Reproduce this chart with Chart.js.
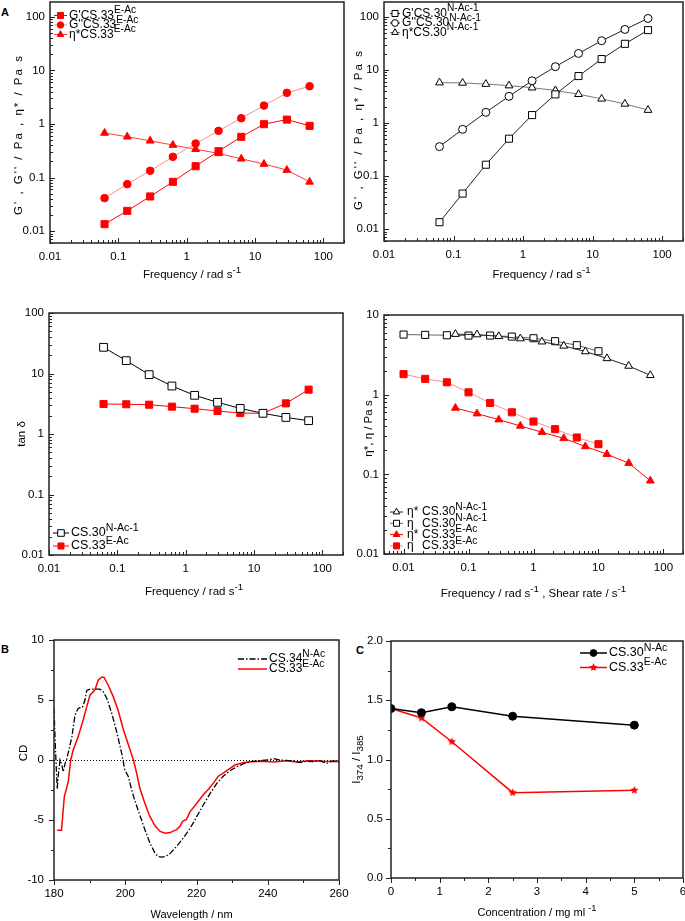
<!DOCTYPE html>
<html>
<head>
<meta charset="utf-8">
<script src="https://cdn.jsdelivr.net/npm/chart.js@4.4.1/dist/chart.umd.min.js"></script>
<style>
  html, body { margin: 0; padding: 0; background: #fff; }
  body { width: 685px; height: 921px; position: relative; overflow: hidden; }
  canvas { position: absolute; }
  .tag { position: absolute; font: bold 11px 'Liberation Sans', Arial, sans-serif; }
</style>
</head>
<body>
<div class="tag" style="left:1px;top:6px">A</div>
<div class="tag" style="left:1px;top:643px">B</div>
<div class="tag" style="left:356px;top:644px">C</div>
<canvas id="p1"></canvas>
<canvas id="p2"></canvas>
<canvas id="p3"></canvas>
<canvas id="p4"></canvas>
<canvas id="pB"></canvas>
<canvas id="pC"></canvas>
<script>
// ---------- data ----------
const freq = [0.0628, 0.135, 0.292, 0.628, 1.35, 2.92, 6.28, 13.5, 29.2, 62.8];
const shearRate = [0.01, 0.0215, 0.0464, 0.1, 0.215, 0.464, 1, 2.15, 4.64, 10];

// CS.33 E-Ac oscillatory
const gStorage33 = [0.0135, 0.0239, 0.0444, 0.0833, 0.163, 0.311, 0.576, 0.993, 1.21, 0.924];
const gLoss33 = [0.0413, 0.0753, 0.134, 0.244, 0.433, 0.745, 1.285, 2.21, 3.82, 5.08];
const etaStar33 = [0.68, 0.578, 0.486, 0.405, 0.338, 0.283, 0.224, 0.179, 0.138, 0.083];

// CS.30 N-Ac-1 oscillatory
const gStorage30 = [0.01355, 0.0469, 0.164, 0.507, 1.41, 3.46, 7.66, 16.0, 31.0, 56.1];
const gLoss30 = [0.359, 0.76, 1.59, 3.18, 6.25, 11.5, 20.4, 35.4, 57.8, 93.0];
const etaStar30 = [5.75, 5.68, 5.4, 5.06, 4.62, 4.1, 3.48, 2.85, 2.29, 1.75];

// tan delta
const tanDelta30 = [27.1, 16.3, 9.57, 6.21, 4.36, 3.34, 2.65, 2.2, 1.88, 1.66];
const tanDelta33 = [3.13, 3.1, 3.05, 2.83, 2.62, 2.4, 2.22, 2.2, 3.21, 5.41];

// steady shear viscosity
const etaSteady30 = [5.68, 5.63, 5.57, 5.52, 5.52, 5.36, 5.11, 4.69, 4.18, 3.51];
const etaSteady33 = [1.81, 1.58, 1.43, 1.07, 0.787, 0.601, 0.46, 0.369, 0.29, 0.239];

// CD spectra
const cd34Nm = [180.0, 180.4, 180.9, 181.3, 181.7, 182.2, 182.6, 183.1, 183.6, 184.3, 185.0, 185.9,
  186.8, 187.5, 188.0, 188.7, 189.2, 190.1, 191.5, 192.9, 193.8, 194.8, 196.2, 197.6, 199.0, 199.9,
  200.9, 201.8, 202.6, 203.4, 204.1, 205.5, 206.9, 208.4, 209.3, 210.2, 211.2, 212.6, 214.4, 216.3,
  218.2, 220.1, 221.9, 223.8, 225.7, 227.5, 229.4, 231.3, 233.1, 235.0, 237.8, 239.7, 242.0, 243.5,
  246.2, 249.1, 251.0, 252.8, 254.5, 256.5, 258.0, 260.0];
const cd34Val = [4.3, 1.0, -2.4, -1.0, 0.0, -0.4, -1.0, -0.3, 0.1, 1.0, 1.9, 3.75,
  4.3, 4.4, 4.4, 5.0, 5.8, 5.9, 5.9, 5.9, 5.7, 5.15, 3.9, 2.35, 0.55, -0.85,
  -1.4, -2.5, -3.3, -4.0, -4.6, -5.8, -6.9, -7.8, -8.05, -8.1, -8.05, -7.8, -7.2, -6.5,
  -5.7, -4.7, -3.75, -2.8, -1.95, -1.35, -0.9, -0.55, -0.33, -0.15, -0.06, 0.0, 0.1, 0.0,
  -0.06, -0.2, -0.1, -0.14, -0.05, -0.28, -0.1, -0.06];
const cd33Nm = [180.9, 182.1, 182.9, 184.0, 184.7, 185.4, 186.8, 188.2, 189.2, 190.1, 191.5, 192.4,
  193.4, 194.0, 195.2, 196.6, 198.0, 199.5, 200.9, 202.3, 203.2, 204.1, 205.5, 206.9, 208.4, 209.8,
  211.2, 212.6, 214.4, 215.4, 216.1, 217.2, 218.2, 220.1, 221.9, 223.3, 224.7, 226.1, 227.5, 228.9,
  230.8, 233.1, 235.0, 237.8, 241.6, 245.3, 248.1, 251.9, 255.6, 260.0];
const cd33Val = [-5.85, -5.85, -3.05, -1.8, 0.0, 0.85, 1.95, 3.35, 4.45, 5.4, 5.85, 6.65,
  6.9, 6.9, 6.25, 5.3, 4.15, 2.5, 1.25, 0.0, -1.1, -2.35, -3.6, -4.7, -5.5, -5.95,
  -6.1, -6.05, -5.8, -5.5, -5.1, -4.95, -4.3, -3.6, -2.9, -2.45, -1.95, -1.35, -1.1, -0.8,
  -0.42, -0.22, -0.14, -0.11, -0.17, -0.06, -0.17, -0.06, -0.11, -0.14];

// pyrene ratio vs concentration
const conc = [0, 0.625, 1.25, 2.5, 5];
const ratio30 = [1.43, 1.395, 1.445, 1.365, 1.29];
const ratio33 = [1.43, 1.35, 1.15, 0.72, 0.74];

// tick labels
const decadeTicks4 = [0.01, 0.1, 1, 10, 100];
const decadeTicksY3 = [0.01, 0.1, 1, 10];
const cdWaveTicks = [180, 200, 220, 240, 260];
const cdTicks = [-10, -5, 0, 5, 10];
const concTicks = [0, 1, 2, 3, 4, 5, 6];
const ratioTicks = [0, 0.5, 1, 1.5, 2];

// ---------- helpers ----------
const FONT = "'Liberation Sans', Arial, sans-serif";
Chart.defaults.font.family = FONT;
Chart.defaults.font.size = 11.5;
Chart.defaults.color = '#000';
Chart.defaults.animation = false;

const RED = '#ff0000';
const PINK = '#ff8a8a';

function pairs(xs, ys) {
  return xs.map((x, i) => ({ x: x, y: ys[i] }));
}

function parseRich(str) {
  const parts = [];
  const re = /([\^_])\{([^}]*)\}/g;
  let last = 0, m;
  while ((m = re.exec(str))) {
    if (m.index > last) parts.push({ t: str.slice(last, m.index), mode: '' });
    parts.push({ t: m[2], mode: m[1] === '^' ? 'sup' : 'sub' });
    last = re.lastIndex;
  }
  if (last < str.length) parts.push({ t: str.slice(last), mode: '' });
  return parts;
}

function drawRich(ctx, str, x, y, opt) {
  const size = opt.size || 12;
  const parts = parseRich(str);
  ctx.save();
  ctx.textBaseline = 'middle';
  ctx.textAlign = 'left';
  ctx.fillStyle = '#000';
  if ('letterSpacing' in ctx) ctx.letterSpacing = (opt.spacing || 0) + 'px';
  const fonts = parts.map(p => (opt.weight ? opt.weight + ' ' : '') + (p.mode ? size * 0.85 : size) + 'px ' + FONT);
  const widths = parts.map((p, i) => { ctx.font = fonts[i]; return ctx.measureText(p.t).width; });
  const total = widths.reduce((a, b) => a + b, 0);
  let cx = opt.align === 'center' ? x - total / 2 : x;
  parts.forEach((p, i) => {
    ctx.font = fonts[i];
    const dy = p.mode === 'sup' ? -size * 0.42 : (p.mode === 'sub' ? size * 0.32 : 0);
    ctx.fillText(p.t, cx, y + dy);
    cx += widths[i];
  });
  ctx.restore();
}

function tickMarks(scale, minorStep) {
  const out = [];
  const majors = scale.ticks.map(t => t.value);
  const isMajor = v => majors.some(m => Math.abs(m - v) < 1e-6 * Math.max(1, Math.abs(v)));
  if (scale.type === 'logarithmic') {
    for (let d = Math.floor(Math.log10(scale.min)); d <= Math.ceil(Math.log10(scale.max)); d++) {
      for (let k = 1; k <= 9; k++) {
        const v = k * Math.pow(10, d);
        if (v >= scale.min * 0.999 && v <= scale.max * 1.001) out.push({ v, major: isMajor(v) });
      }
    }
  } else {
    const n = Math.round((scale.max - scale.min) / minorStep);
    for (let i = 0; i <= n; i++) {
      const v = scale.min + i * minorStep;
      out.push({ v, major: isMajor(v) });
    }
  }
  return out;
}

// frame, tick marks, titles and the in-plot legend
const decor = {
  id: 'decor',
  beforeDatasetsDraw(chart, args, o) {
    if (!o.zeroLine) return;
    const { ctx, chartArea: a, scales } = chart;
    const y0 = Math.round(scales.y.getPixelForValue(0)) + 0.5;
    ctx.save();
    ctx.strokeStyle = '#000';
    ctx.lineWidth = 1;
    ctx.setLineDash([1, 2]);
    ctx.beginPath();
    ctx.moveTo(a.left, y0);
    ctx.lineTo(a.right, y0);
    ctx.stroke();
    ctx.restore();
  },
  afterDraw(chart, args, o) {
    const { ctx, chartArea: a, scales } = chart;
    ctx.save();
    ctx.strokeStyle = '#222';
    ctx.lineWidth = 1.5;
    ctx.strokeRect(a.left, a.top, a.right - a.left, a.bottom - a.top);

    const sign = o.tickDir === 'in' ? -1 : 1;
    ctx.lineWidth = 1;
    ctx.beginPath();
    tickMarks(scales.x, o.xMinor).forEach(t => {
      const px = Math.round(scales.x.getPixelForValue(t.v)) + 0.5;
      const len = t.major ? 5 : 3;
      ctx.moveTo(px, a.bottom);
      ctx.lineTo(px, a.bottom + sign * len);
    });
    tickMarks(scales.y, o.yMinor).forEach(t => {
      const py = Math.round(scales.y.getPixelForValue(t.v)) + 0.5;
      const len = t.major ? 5 : 3;
      ctx.moveTo(a.left, py);
      ctx.lineTo(a.left - sign * len, py);
    });
    ctx.stroke();

    // axis titles
    const tx = o.xTitle, ty = o.yTitle;
    drawRich(ctx, tx.text, (a.left + a.right) / 2 + (tx.dx || 0), a.bottom + tx.dy,
      { size: tx.size || 11.5, align: 'center', spacing: tx.spacing });
    ctx.save();
    ctx.translate(a.left - ty.dx, (a.top + a.bottom) / 2 + (ty.dy || 0));
    ctx.rotate(-Math.PI / 2);
    drawRich(ctx, ty.text, 0, 0, { size: ty.size || 11.5, align: 'center', spacing: ty.spacing });
    ctx.restore();

    // legend
    const lg = o.legend;
    chart.data.datasets.forEach((ds, i) => {
      const y = a.top + lg.y + i * lg.row;
      const x0 = a.left + lg.x;
      ctx.save();
      ctx.strokeStyle = ds.borderColor;
      ctx.lineWidth = ds.borderWidth || 1;
      ctx.setLineDash(ds.borderDash || []);
      ctx.beginPath();
      ctx.moveTo(x0, y);
      ctx.lineTo(x0 + lg.len, y);
      ctx.stroke();
      ctx.setLineDash([]);
      if (ds.pointRadius > 0) {
        ctx.fillStyle = ds.pointBackgroundColor;
        ctx.strokeStyle = ds.pointBorderColor;
        ctx.lineWidth = 1;
        Chart.helpers.drawPoint(ctx, {
          pointStyle: ds.pointStyle, radius: ds.pointRadius * 0.85, rotation: 0, borderWidth: 1
        }, x0 + lg.len / 2, y);
      }
      let textX = x0 + lg.len + 2;
      if (ds.prefix) {
        drawRich(ctx, ds.prefix, textX + 2, y, { size: lg.size || 12 });
        textX += lg.prefixW;
      }
      drawRich(ctx, ds.label, textX, y, { size: lg.size || 12 });
      ctx.restore();
    });
    ctx.restore();
  }
};

function logAxis(min, max, majors, pad) {
  return {
    type: 'logarithmic', min: min, max: max,
    grid: { display: false, drawTicks: false },
    border: { display: false },
    ticks: { autoSkip: false, maxRotation: 0, padding: pad, callback: v => String(v) },
    afterBuildTicks: s => { s.ticks = majors.map(v => ({ value: v })); }
  };
}

function linAxis(min, max, majors, fmt, pad) {
  return {
    type: 'linear', min: min, max: max,
    grid: { display: false, drawTicks: false },
    border: { display: false },
    ticks: { autoSkip: false, maxRotation: 0, padding: pad, callback: fmt },
    afterBuildTicks: s => { s.ticks = majors.map(v => ({ value: v })); }
  };
}

function series(label, data, line, style, radius, fill, stroke, extra) {
  return Object.assign({
    label: label, data: data,
    borderColor: line, borderWidth: 1, tension: 0,
    pointStyle: style, pointRadius: radius, pointHoverRadius: radius,
    pointBackgroundColor: fill, pointBorderColor: stroke, pointBorderWidth: 1
  }, extra || {});
}

// place a chart so that its plot area lands on the given page rectangle
function panel(id, plot, datasets, scales, decorOpts) {
  const M = { l: 64, t: 22, r: 22, b: 58 };
  const cv = document.getElementById(id);
  const w = plot.r - plot.l + M.l + M.r;
  const h = plot.b - plot.t + M.t + M.b;
  cv.width = w;
  cv.height = h;
  cv.style.left = (plot.l - M.l) + 'px';
  cv.style.top = (plot.t - M.t) + 'px';
  cv.style.width = w + 'px';
  cv.style.height = h + 'px';
  scales.x.afterFit = s => { s.height = M.b; };
  scales.y.afterFit = s => { s.width = M.l; };
  return new Chart(cv, {
    type: 'line',
    data: { datasets: datasets },
    options: {
      responsive: false,
      animation: false,
      layout: { padding: { top: M.t, right: M.r, left: 0, bottom: 0 } },
      scales: scales,
      plugins: { legend: { display: false }, tooltip: { enabled: false }, decor: decorOpts }
    },
    plugins: [decor]
  });
}

function starImage(size, color) {
  const c = document.createElement('canvas');
  c.width = c.height = size;
  const g = c.getContext('2d');
  const r = size / 2;
  g.beginPath();
  for (let i = 0; i < 10; i++) {
    const ang = -Math.PI / 2 + i * Math.PI / 5;
    const rr = i % 2 ? r * 0.45 : r - 0.3;
    g.lineTo(r + rr * Math.cos(ang), r + rr * Math.sin(ang));
  }
  g.closePath();
  g.fillStyle = color;
  g.fill();
  return c;
}

const freqTitle = 'Frequency / rad s^{-1}';
const moduliTitle = "G' , G'' / Pa , \u03b7* / Pa s";

// ---------- A: CS.33 moduli ----------
panel('p1', { l: 50, t: 2, r: 344, b: 243 }, [
  series("G'CS.33^{E-Ac}", pairs(freq, gStorage33), RED, 'rect', 5, RED, RED),
  series("G''CS.33^{E-Ac}", pairs(freq, gLoss33), PINK, 'circle', 3.8, RED, RED),
  series('\u03b7*CS.33^{E-Ac}', pairs(freq, etaStar33), '#ff3b3b', 'triangle', 4.5, RED, RED)
], {
  x: logAxis(0.01, 200, decadeTicks4, 7),
  y: logAxis(0.006, 190, decadeTicks4, 5)
}, {
  tickDir: 'in',
  xTitle: { text: freqTitle, dx: -5, dy: 32 },
  yTitle: { text: moduliTitle, dx: 31, dy: 12, spacing: 2 },
  legend: { x: 4, y: 13.5, row: 9.5, len: 13 }
});

// ---------- A: CS.30 moduli ----------
panel('p2', { l: 384, t: 2, r: 683, b: 241 }, [
  series("G'CS.30^{N-Ac-1}", pairs(freq, gStorage30), '#222', 'rect', 5, '#fff', '#000'),
  series("G''CS.30^{N-Ac-1}", pairs(freq, gLoss30), '#222', 'circle', 4, '#fff', '#000'),
  series('\u03b7*CS.30^{N-Ac-1}', pairs(freq, etaStar30), '#777', 'triangle', 4.5, '#fff', '#000')
], {
  x: logAxis(0.01, 200, decadeTicks4, 7),
  y: logAxis(0.006, 190, decadeTicks4, 5)
}, {
  tickDir: 'in',
  xTitle: { text: freqTitle, dx: 8, dy: 34 },
  yTitle: { text: moduliTitle, dx: 25, dy: 8, spacing: 2 },
  legend: { x: 6, y: 11.5, row: 9.5, len: 10 }
});

// ---------- A: tan delta ----------
panel('p3', { l: 49, t: 313, r: 343, b: 555 }, [
  series('CS.30^{N-Ac-1}', pairs(freq, tanDelta30), '#000', 'rect', 5.5, '#fff', '#000'),
  series('CS.33^{E-Ac}', pairs(freq, tanDelta33), RED, 'rect', 5, RED, RED)
], {
  x: logAxis(0.01, 200, decadeTicks4, 7),
  y: logAxis(0.01, 100, decadeTicks4, 5)
}, {
  tickDir: 'in',
  xTitle: { text: freqTitle, dx: -2, dy: 37 },
  yTitle: { text: 'tan \u03b4', dx: 27, dy: 0 },
  legend: { x: 4, y: 220, row: 13, len: 16, size: 12.5 }
});

// ---------- A: viscosities ----------
panel('p4', { l: 384, t: 315, r: 683, b: 554 }, [
  series('CS.30^{N-Ac-1}', pairs(freq, etaStar30), '#222', 'triangle', 4.5, '#fff', '#000', { prefix: '\u03b7*' }),
  series('CS.30^{N-Ac-1}', pairs(shearRate, etaSteady30), '#666', 'rect', 5, '#fff', '#000', { prefix: '\u03b7' }),
  series('CS.33^{E-Ac}', pairs(freq, etaStar33), RED, 'triangle', 4.5, RED, RED, { prefix: '\u03b7*' }),
  series('CS.33^{E-Ac}', pairs(shearRate, etaSteady33), PINK, 'rect', 5, RED, RED, { prefix: '\u03b7' })
], {
  x: logAxis(0.005, 200, decadeTicks4, 7),
  y: logAxis(0.01, 10, decadeTicksY3, 5)
}, {
  tickDir: 'in',
  xTitle: { text: 'Frequency / rad s^{-1} , Shear rate / s^{-1}', dx: 0, dy: 40 },
  yTitle: { text: '\u03b7*, \u03b7 / Pa s', dx: 15, dy: -6 },
  legend: { x: 6, y: 197, row: 11.3, len: 13, prefixW: 17 }
});

// ---------- B: CD ----------
panel('pB', { l: 54, t: 640, r: 339, b: 880 }, [
  series('CS.34^{N-Ac}', pairs(cd34Nm, cd34Val), '#000', 'circle', 0, '#000', '#000',
    { borderWidth: 1.3, borderDash: [6, 2, 1.5, 2] }),
  series('CS.33^{E-Ac}', pairs(cd33Nm, cd33Val), RED, 'circle', 0, RED, RED, { borderWidth: 1.5 })
], {
  x: linAxis(180, 260, cdWaveTicks, v => String(v), 7),
  y: linAxis(-10, 10, cdTicks, v => String(v), 10)
}, {
  tickDir: 'out', xMinor: 10, yMinor: 2.5, zeroLine: true,
  xTitle: { text: 'Wavelength / nm', dx: -5, dy: 35, size: 11 },
  yTitle: { text: 'CD', dx: 30, dy: -7 },
  legend: { x: 184, y: 19, row: 10, len: 29 }
});

// ---------- C: I374 / I385 ----------
panel('pC', { l: 391, t: 641, r: 683, b: 878 }, [
  series('CS.30^{N-Ac}', pairs(conc, ratio30), '#000', 'circle', 4, '#000', '#000', { borderWidth: 1.5 }),
  series('CS.33^{E-Ac}', pairs(conc, ratio33), RED, starImage(9, RED), 4.5, RED, RED, { borderWidth: 1.5 })
], {
  x: linAxis(0, 6, concTicks, v => String(v), 7),
  y: linAxis(0, 2, ratioTicks, v => v.toFixed(1), 8)
}, {
  tickDir: 'out', xMinor: 0.5, yMinor: 0.25,
  xTitle: { text: 'Concentration / mg ml ^{-1}', dx: 0, dy: 35, size: 11 },
  yTitle: { text: 'I_{374} / I_{385}', dx: 34, dy: 0 },
  legend: { x: 189, y: 12, row: 14.5, len: 27, size: 12.5 }
});
</script>
</body>
</html>
